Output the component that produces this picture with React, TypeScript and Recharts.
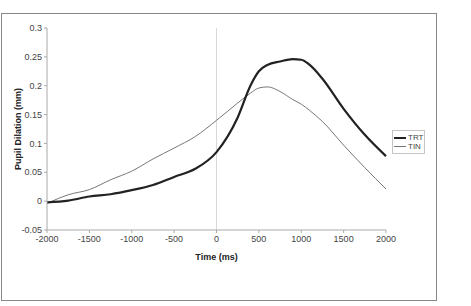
import React from "react";
import { LineChart, Line, XAxis, YAxis, ReferenceLine, Legend } from "recharts";

const times = [-2000, -1750, -1500, -1250, -1000, -750, -500, -250, 0, 250, 400, 500, 600, 750, 900, 1000, 1100, 1250, 1500, 1750, 2000];
const trt = [-0.002, 0.001, 0.008, 0.012, 0.019, 0.028, 0.042, 0.056, 0.085, 0.145, 0.2, 0.225, 0.236, 0.242, 0.246, 0.245, 0.236, 0.212, 0.16, 0.115, 0.078];
const tin = [-0.004, 0.011, 0.02, 0.037, 0.052, 0.073, 0.092, 0.112, 0.14, 0.17, 0.187, 0.196, 0.198, 0.19, 0.176, 0.168, 0.157, 0.138, 0.097, 0.058, 0.021];
const xTicks = [-2000, -1500, -1000, -500, 0, 500, 1000, 1500, 2000];
const yTicks = [-0.05, 0, 0.05, 0.1, 0.15, 0.2, 0.25, 0.3];
const yTickLabels = ["-0.05", "0", "0.05", "0.1", "0.15", "0.2", "0.25", "0.3"];
const seriesNames = ["TRT", "TIN"];

const data = times.map((t, i) => ({ t, TRT: trt[i], TIN: tin[i] }));

const FONT = "'Liberation Sans', Arial, sans-serif";

const LegendBox = () => (
  <div
    style={{
      border: "1px solid #c4c4c4",
      background: "#fff",
      width: 30,
      padding: "2px 0 2px 1px",
      fontFamily: FONT,
      fontSize: 8,
      color: "#444",
      lineHeight: "9px",
    }}
  >
    <div style={{ display: "flex", alignItems: "center", color: "#444" }}>
      <span style={{ display: "inline-block", width: 12, height: 2, background: "#222", marginRight: 2 }} />
      <span style={{ color: "#444" }}>{seriesNames[0]}</span>
    </div>
    <div style={{ display: "flex", alignItems: "center", color: "#444" }}>
      <span style={{ display: "inline-block", width: 12, height: 1, background: "#777", marginRight: 2 }} />
      <span style={{ color: "#444" }}>{seriesNames[1]}</span>
    </div>
  </div>
);

export default function App() {
  return (
    <div style={{ position: "absolute", left: 0, top: 0, width: 471, height: 306, background: "#fff" }}>
      <div
        style={{
          position: "absolute",
          left: 1,
          top: 13,
          width: 436,
          height: 288,
          border: "1px solid #888",
          boxSizing: "border-box",
        }}
      />
      <LineChart
        width={471}
        height={306}
        data={data}
        margin={{ top: 28, right: 85, bottom: 0, left: 0 }}
        style={{ position: "absolute", left: 0, top: 0 }}
      >
        <XAxis
          dataKey="t"
          type="number"
          domain={[-2000, 2000]}
          ticks={xTicks}
          height={54}
          stroke="#aaa"
          tickSize={3}
          tickMargin={3}
          tick={{ fill: "#444", fontSize: 9, fontFamily: FONT }}
          label={{ value: "Time (ms)", position: "insideTop", offset: 24, fill: "#222", fontSize: 9, fontWeight: "bold", fontFamily: FONT }}
        />
        <YAxis
          type="number"
          domain={[-0.05, 0.3]}
          ticks={yTicks}
          tickFormatter={(v: number) => yTickLabels[yTicks.findIndex((y) => Math.abs(y - v) < 1e-9)] ?? String(v)}
          width={47}
          stroke="#aaa"
          tickSize={3}
          tickMargin={2}
          tick={{ fill: "#444", fontSize: 9, fontFamily: FONT }}
          label={{ value: "Pupil Dilation (mm)", angle: -90, position: "insideLeft", offset: 18, fill: "#222", fontSize: 9, fontWeight: "bold", fontFamily: FONT, style: { textAnchor: "middle" } }}
        />
        <ReferenceLine x={0} stroke="#d8d8d8" strokeWidth={1} />
        <Line type="monotone" dataKey="TIN" stroke="#777" strokeWidth={1} dot={false} isAnimationActive={false} />
        <Line type="monotone" dataKey="TRT" stroke="#222" strokeWidth={2.2} dot={false} isAnimationActive={false} />
        <Legend
          content={<LegendBox />}
          wrapperStyle={{ position: "absolute", left: 392, top: 130, width: 32, height: 22 }}
        />
      </LineChart>
    </div>
  );
}
